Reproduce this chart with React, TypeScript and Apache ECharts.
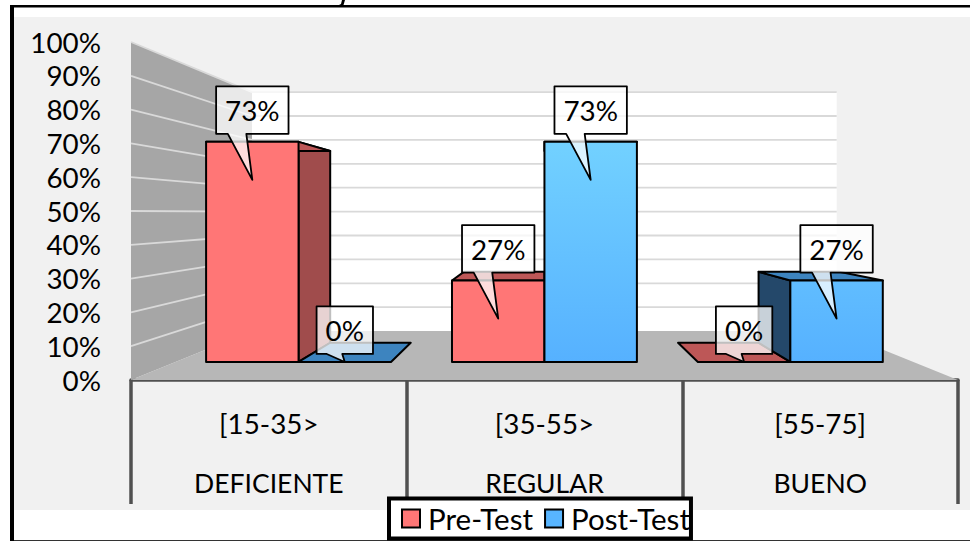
import React, { useEffect, useRef } from "react";
import * as echarts from "echarts";

const levels = ["[15-35>", "[35-55>", "[55-75]"];
const groups = ["DEFICIENTE", "REGULAR", "BUENO"];
const preTest = [73, 27, 0];
const postTest = [0, 73, 27];
const ticks = [10, 20, 30, 40, 50, 60, 70, 80, 90, 100];

const VX = 544;
const VY = 213;
const F_BAR_FRONT = 0.892;
const F_BAR_BACK = 0.777;
const F_WALL = 0.707;
const BAR_RATIO = 0.376;
const FONT = "Lato";
const FS = 27.8;

const prj = (x: number, y: number, f: number) => [VX + (x - VX) * f, VY + (y - VY) * f];

const barItem = (side: number, front: any, top: any, sideL: any, sideR: any) => (params: any, api: any) => {
  const cat = api.value(0);
  const v = api.value(1);
  const [cx, yv] = api.coord([cat, v]);
  const [, y0] = api.coord([cat, 0]);
  const w = api.size([1, 0])[0] * BAR_RATIO;
  const xa = side < 0 ? cx - w : cx;
  const xb = side < 0 ? cx : cx + w;
  const P = (x: number, y: number, f: number) => prj(x, y, f);
  const line = { stroke: "#000", lineWidth: 2, lineJoin: "round" };
  const poly = (pts: number[][], fill: any) => ({ type: "polygon", shape: { points: pts }, style: { fill, ...line } });
  const fa = P(xa, yv, F_BAR_FRONT), fb = P(xb, yv, F_BAR_FRONT);
  const ba = P(xa, yv, F_BAR_BACK), bb = P(xb, yv, F_BAR_BACK);
  const fa0 = P(xa, y0, F_BAR_FRONT), fb0 = P(xb, y0, F_BAR_FRONT);
  const ba0 = P(xa, y0, F_BAR_BACK), bb0 = P(xb, y0, F_BAR_BACK);
  const children: any[] = [];
  if (v === 0) {
    children.push(poly([fa0, fb0, bb0, ba0], top));
    return { type: "group", children };
  }
  if (fb[0] < VX - 1) children.push(poly([fb, bb, bb0, fb0], sideR));
  if (fa[0] > VX + 1) children.push(poly([fa, ba, ba0, fa0], sideL));
  children.push(poly([fa, fb, bb, ba], top));
  children.push(poly([fa, fb, fb0, fa0], front));
  return { type: "group", children };
};

const labelItem = (side: number) => (params: any, api: any) => {
  const cat = api.value(0);
  const v = api.value(1);
  const [cx, yv] = api.coord([cat, v]);
  const w = api.size([1, 0])[0] * BAR_RATIO;
  const mid = prj(cx + (side * w) / 2, yv, F_BAR_FRONT);
  const text = `${v}%`;
  const half = v === 0 ? 28.2 : 36.2;
  const bx0 = mid[0] - half, bx1 = mid[0] + half;
  const by0 = mid[1] - 55.5, by1 = mid[1] - 8;
  const tip = v === 0 ? [mid[0], mid[1]] : [mid[0], mid[1] + 38];
  const ba = v === 0 ? mid[0] - 18 : mid[0] - 24.5;
  const bb = v === 0 ? mid[0] - 2.5 : mid[0] - 6;
  return {
    type: "group",
    children: [
      {
        type: "polygon",
        shape: {
          points: [[bx0, by0], [bx1, by0], [bx1, by1], [bb, by1], tip, [ba, by1], [bx0, by1]],
        },
        style: { fill: "rgba(255,255,255,0.75)", stroke: "#000", lineWidth: 1.8, lineJoin: "round" },
      },
      {
        type: "text",
        style: {
          x: mid[0], y: (by0 + by1) / 2 + 0.5, text,
          fill: "#000", font: `${FS}px ${FONT}`, align: "center", verticalAlign: "middle",
        },
      },
    ],
  };
};

const redGrad = "#ff7676";

export default function App() {
  const ref = useRef<HTMLDivElement>(null);
  useEffect(() => {
    const chart = echarts.init(ref.current!, null, { renderer: "svg" });
    const blueGrad = new echarts.graphic.LinearGradient(0, 142, 0, 362, [
      { offset: 0, color: "#72d1ff" },
      { offset: 1, color: "#56b1ff" },
    ], true);
    chart.setOption({
      animation: false,
      backgroundColor: "#fff",
      textStyle: { fontFamily: FONT },
      grid: { left: 131, right: 12, top: 42, bottom: 161 },
      tooltip: { show: false },
      legend: {
        show: true,
        data: ["Pre-Test", "Post-Test"],
        left: 389,
        top: 498.5,
        z: 10,
        orient: "horizontal",
        icon: "rect",
        itemWidth: 18,
        itemHeight: 18,
        itemGap: 11,
        backgroundColor: "#fff",
        borderColor: "#000",
        borderWidth: 4,
        borderRadius: 0,
        padding: [5, 1, 5, 12],
        textStyle: { fontFamily: FONT, fontSize: 29.5, color: "#000", padding: [0, 0, 0, 3] },
      },
      xAxis: [
        {
          type: "category",
          data: levels,
          position: "bottom",
          axisLine: { show: true, lineStyle: { color: "#505050", width: 3.5 } },
          axisTick: { show: true, length: 124, lineStyle: { color: "#505050", width: 3.5 } },
          axisLabel: { color: "#000", fontFamily: FONT, fontSize: FS, margin: 29 },
        },
        {
          type: "category",
          data: groups,
          position: "bottom",
          axisLine: { show: false },
          axisTick: { show: false },
          axisLabel: { color: "#000", fontFamily: FONT, fontSize: 26.5, margin: 89 },
        },
      ],
      yAxis: {
        type: "value",
        min: 0,
        max: 100,
        interval: 10,
        axisLine: { show: false },
        axisTick: { show: false },
        splitLine: { show: false },
        axisLabel: { color: "#000", fontFamily: FONT, fontSize: FS, margin: 30, formatter: "{value}%" },
      },
      series: [
        {
          type: "custom",
          name: "walls",
          z: 1,
          silent: true,
          data: [[0, 100]],
          renderItem: (params: any, api: any) => {
            const top = api.coord([0, 100])[1];
            const bot = api.coord([0, 0])[1];
            const l = params.coordSys.x;
            const r = l + params.coordSys.width;
            const lt = [l, top], lb = [l, bot], rb = [r, bot];
            const blt = prj(l, top, F_WALL), blb = prj(l, bot, F_WALL);
            const brt = prj(r, top, F_WALL), brb = prj(r, bot, F_WALL);
            return {
              type: "group",
              children: [
                { type: "polygon", shape: { points: [blt, brt, brb, blb] }, style: { fill: "#fff" } },
                { type: "polygon", shape: { points: [lt, blt, blb, lb] }, style: { fill: "#a6a6a6" } },
                { type: "polygon", shape: { points: [lb, blb, brb, rb] }, style: { fill: "#b7b7b7" } },
              ],
            };
          },
        },
        {
          type: "custom",
          name: "grid",
          z: 2,
          silent: true,
          data: ticks.map((t) => [0, t]),
          renderItem: (params: any, api: any) => {
            const y = api.coord([0, api.value(1)])[1];
            const l = params.coordSys.x;
            const r = l + params.coordSys.width;
            const a = prj(l, y, F_WALL);
            const b = prj(r, y, F_WALL);
            const st = { stroke: "#d9d9d9", lineWidth: 1.8 };
            return {
              type: "group",
              children: [
                { type: "line", shape: { x1: l, y1: y, x2: a[0], y2: a[1] }, style: st },
                { type: "line", shape: { x1: a[0], y1: a[1], x2: b[0], y2: b[1] }, style: st },
              ],
            };
          },
        },
        {
          type: "custom",
          name: "Pre-Test",
          z: 3,
          itemStyle: { color: redGrad, borderColor: "#000", borderWidth: 2 },
          data: preTest.map((v, i) => [i, v]),
          renderItem: barItem(-1, redGrad, "#bd5757", "#a04c4c", "#a04c4c"),
        },
        {
          type: "custom",
          name: "Post-Test",
          z: 3,
          itemStyle: { color: "#58b5ff", borderColor: "#000", borderWidth: 2 },
          data: postTest.map((v, i) => [i, v]),
          renderItem: barItem(1, blueGrad, "#3d84bf", "#24486a", "#24486a"),
        },
        {
          type: "custom",
          name: "labelsPre",
          z: 4,
          silent: true,
          data: preTest.map((v, i) => [i, v]),
          renderItem: labelItem(-1),
        },
        {
          type: "custom",
          name: "labelsPost",
          z: 4,
          silent: true,
          data: postTest.map((v, i) => [i, v]),
          renderItem: labelItem(1),
        },
      ],
      graphic: [
        { type: "rect", z: -10, shape: { x: 14, y: 17, width: 956, height: 493 }, style: { fill: "#f1f1f1" } },
        { type: "rect", z: 20, shape: { x: 10, y: 5, width: 4, height: 536 }, style: { fill: "#000" } },
        { type: "rect", z: 20, shape: { x: 10, y: 5, width: 960, height: 2.4 }, style: { fill: "#000" } },
        { type: "rect", z: -5, shape: { x: 10, y: 540, width: 960, height: 1 }, style: { fill: "#333" } },
        {
          type: "polygon", z: 20,
          shape: { points: [[342, 0], [345, 0], [343.5, 5], [339, 5], [341, 4]] },
          style: { fill: "#000" },
        },
      ],
    });
    return () => chart.dispose();
  }, []);
  return (
    <div style={{ position: "fixed", left: 0, top: 0, width: 970, height: 541 }}>
      <div ref={ref} style={{ width: 970, height: 541 }} />
    </div>
  );
}
